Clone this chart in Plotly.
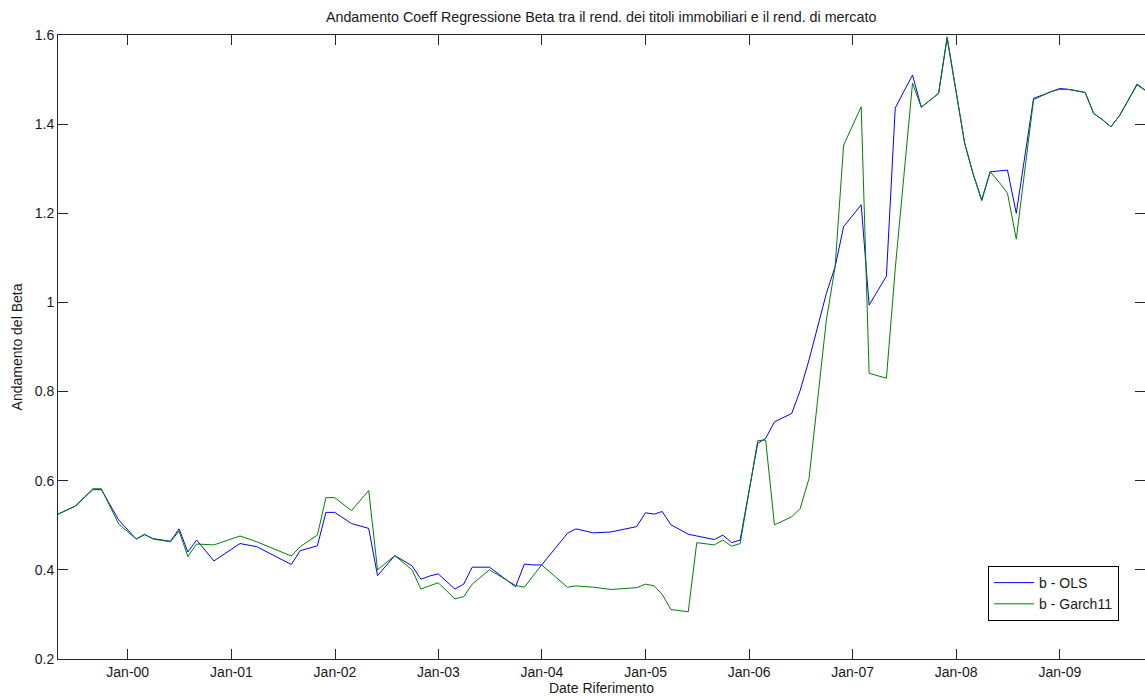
import plotly.graph_objects as go

# ---- data ----
dates = [
    "1999-04-30", "1999-06-30", "1999-08-31", "1999-09-30", "1999-11-30",
    "2000-01-31", "2000-02-29", "2000-03-31", "2000-05-31", "2000-06-30",
    "2000-07-31", "2000-08-31", "2000-10-31", "2001-01-31", "2001-03-31",
    "2001-07-31", "2001-08-31", "2001-10-31", "2001-11-30", "2001-12-31",
    "2002-02-28", "2002-04-30", "2002-05-31", "2002-07-31", "2002-09-30",
    "2002-10-31", "2002-11-30", "2002-12-31", "2003-02-28", "2003-03-31",
    "2003-04-30", "2003-06-30", "2003-09-30", "2003-10-31", "2003-11-30",
    "2003-12-31", "2004-03-31", "2004-04-30", "2004-06-30", "2004-08-31",
    "2004-11-30", "2004-12-31", "2005-01-31", "2005-02-28", "2005-03-31",
    "2005-05-31", "2005-06-30", "2005-08-31", "2005-09-30", "2005-10-31",
    "2005-11-30", "2006-01-31", "2006-02-28", "2006-03-31", "2006-05-31",
    "2006-06-30", "2006-07-31", "2006-08-31", "2006-09-30", "2006-10-31",
    "2006-11-30", "2007-01-31", "2007-02-28", "2007-04-30", "2007-05-31",
    "2007-06-30", "2007-07-31", "2007-08-31", "2007-10-31", "2007-11-30",
    "2007-12-31", "2008-01-31", "2008-02-29", "2008-03-31", "2008-04-30",
    "2008-05-31", "2008-06-30", "2008-07-31", "2008-09-30", "2008-10-31",
    "2008-11-30", "2008-12-31", "2009-01-31", "2009-02-28", "2009-03-31",
    "2009-04-30", "2009-05-31", "2009-06-30", "2009-07-31", "2009-08-31",
    "2009-09-30", "2009-10-31",
]

beta_ols = [
    0.525, 0.543, 0.580, 0.580, 0.512,
    0.469, 0.479, 0.470, 0.464, 0.492,
    0.440, 0.467, 0.420, 0.459, 0.452,
    0.412, 0.443, 0.454, 0.529, 0.529,
    0.504, 0.493, 0.387, 0.432, 0.409,
    0.379, 0.386, 0.391, 0.357, 0.368,
    0.406, 0.406, 0.362, 0.413, 0.411,
    0.411, 0.482, 0.492, 0.483, 0.485,
    0.497, 0.528, 0.525, 0.531, 0.501,
    0.480, 0.476, 0.468, 0.478, 0.461,
    0.467, 0.684, 0.695, 0.732, 0.751,
    0.803, 0.871, 0.946, 1.020, 1.080,
    1.170, 1.219, 0.994, 1.059, 1.436,
    1.473, 1.510, 1.438, 1.469, 1.593,
    1.476, 1.357, 1.290, 1.230, 1.293,
    1.295, 1.297, 1.200, 1.458, 1.465,
    1.473, 1.480, 1.478, 1.475, 1.471,
    1.424, 1.410, 1.394, 1.420, 1.455,
    1.490, 1.475,
]

beta_garch = [
    0.525, 0.543, 0.582, 0.582, 0.503,
    0.469, 0.480, 0.469, 0.463, 0.487,
    0.430, 0.458, 0.456, 0.476, 0.463,
    0.431, 0.452, 0.478, 0.562, 0.562,
    0.533, 0.578, 0.400, 0.432, 0.400,
    0.357, 0.364, 0.371, 0.335, 0.340,
    0.368, 0.400, 0.365, 0.361, 0.386,
    0.411, 0.361, 0.364, 0.361, 0.356,
    0.360, 0.368, 0.364, 0.345, 0.311,
    0.306, 0.461, 0.456, 0.467, 0.453,
    0.459, 0.690, 0.691, 0.501, 0.519,
    0.538, 0.605, 0.790, 0.960, 1.080,
    1.353, 1.439, 0.841, 0.830, 1.075,
    1.280, 1.492, 1.438, 1.469, 1.596,
    1.476, 1.357, 1.290, 1.228, 1.293,
    1.270, 1.245, 1.142, 1.455, 1.465,
    1.473, 1.478, 1.478, 1.475, 1.471,
    1.424, 1.410, 1.394, 1.420, 1.455,
    1.488, 1.475,
]

y_ticks = [0.2, 0.4, 0.6, 0.8, 1.0, 1.2, 1.4, 1.6]
y_tick_text = ["0.2", "0.4", "0.6", "0.8", "1", "1.2", "1.4", "1.6"]
x_ticks = ["%d-01-01" % y for y in range(2000, 2010)]
x_tick_text = ["Jan-%02d" % (y % 100) for y in range(2000, 2010)]

series_names = ["b - OLS", "b - Garch11"]

FONT = "Liberation Sans, Arial, sans-serif"
TXT = "#1a1a1a"

fig = go.Figure()
fig.add_trace(go.Scatter(x=dates, y=beta_ols, mode="lines", name=series_names[0],
                         line=dict(color="#0000ff", width=1)))
fig.add_trace(go.Scatter(x=dates, y=beta_garch, mode="lines", name=series_names[1],
                         line=dict(color="#008000", width=1)))

axis_common = dict(showgrid=False, zeroline=False, showline=True, linecolor="#262626",
                   linewidth=1, mirror="ticks", ticks="inside", ticklen=10,
                   tickcolor="#262626", automargin=False,
                   tickfont=dict(family=FONT, size=14, color=TXT))

fig.update_layout(
    width=1145, height=698,
    margin=dict(l=58, r=0, t=35, b=39),
    paper_bgcolor="white", plot_bgcolor="white",
    font=dict(family=FONT, size=14, color=TXT),
    title=dict(text="Andamento Coeff Regressione Beta tra il rend. dei titoli immobiliari e il rend. di mercato",
               x=0.525, xanchor="center", y=0.975, yanchor="middle",
               font=dict(family=FONT, size=14.3, color=TXT)),
    xaxis=dict(range=["1999-04-30", "2009-10-28"], tickvals=x_ticks, ticktext=x_tick_text,
               title=dict(text="Date Riferimento", standoff=0,
                          font=dict(family=FONT, size=14, color=TXT)),
               **axis_common),
    yaxis=dict(range=[0.2, 1.6], tickvals=y_ticks, ticktext=y_tick_text,
               title=dict(text="Andamento del Beta", standoff=8,
                          font=dict(family=FONT, size=14, color=TXT)),
               **axis_common),
    legend=dict(x=0.8556, y=0.149, xanchor="left", yanchor="top",
                bgcolor="white", bordercolor="black", borderwidth=1,
                font=dict(family=FONT, size=14, color=TXT),
                tracegroupgap=0, itemwidth=40),
    showlegend=True,
)

fig.write_html("out.html", config={"displayModeBar": False},
               post_script="document.body.style.margin='0';document.body.style.overflow='hidden';")
